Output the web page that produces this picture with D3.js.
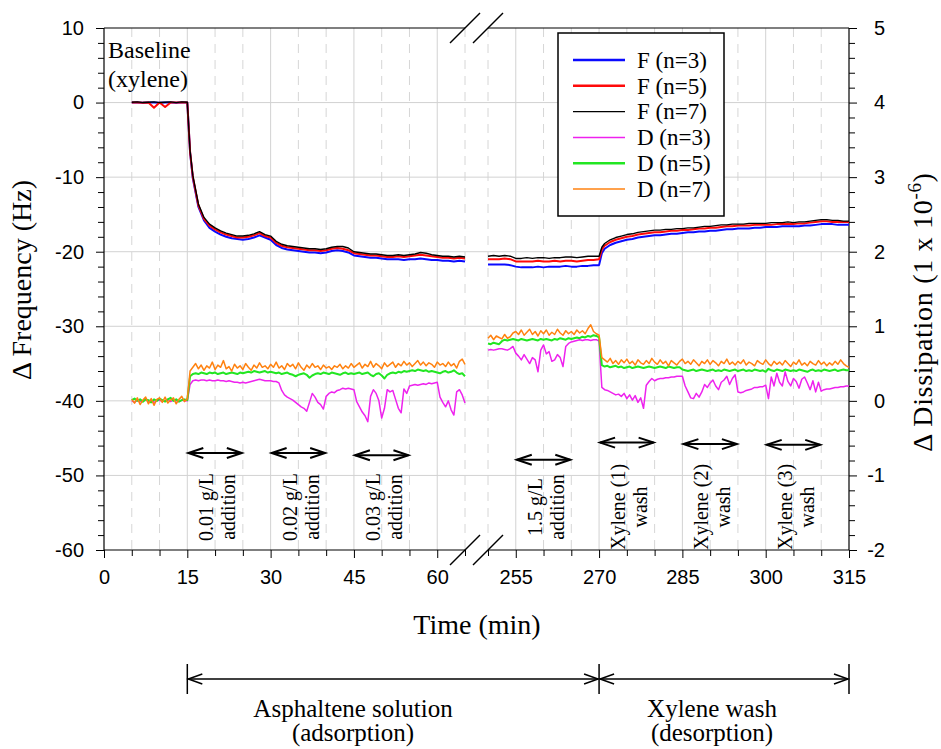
<!DOCTYPE html>
<html><head><meta charset="utf-8">
<script src="https://cdn.jsdelivr.net/npm/d3@7"></script>
<style>body{margin:0;background:#fff}</style>
</head><body>
<svg id="chart" width="941" height="749"></svg>
<script>
// ---------------- DATA ----------------
// sample times (min) for the frequency curves
const fLeftTime = [5,6,7,8,9,10,11,12,13,14,
  15,15.5,16,17,18,19,20,21,22,23,24,
  25,26,27,28,29,30,31,32,33,34,
  35,36,37,38,39,40,41,42,43,44,
  45,46,47,48,49,50,51,52,53,54,
  55,56,57,58,59,60,61,62,63,64,
  65];
const fRightTime = [250,251,252,253,254,255,256,257,258,259,
  260,261,262,263,264,265,266,267,268,269,
  270,270.5,271,272,273,274,275,276,277,278,279,
  280,281,282,283,284,285,286,287,288,289,
  290,291,292,293,294,295,296,297,298,299,
  300,301,302,303,304,305,306,307,308,309,
  310,311,312,313,314,315];
// sample times (min) for the dissipation curves
const dLeftTime = [5,5.5,6,6.5,7,7.5,8,8.5,9,9.5,
  10,10.5,11,11.5,12,12.5,13,13.5,14,14.5,
  15,15.5,16,16.5,17,17.5,18,18.5,19,19.5,
  20,20.5,21,21.5,22,22.5,23,23.5,24,24.5,
  25,25.5,26,26.5,27,27.5,28,28.5,29,29.5,
  30,30.5,31,31.5,32,32.5,33,33.5,34,34.5,
  35,35.5,36,36.5,37,37.5,38,38.5,39,39.5,
  40,40.5,41,41.5,42,42.5,43,43.5,44,44.5,
  45,45.5,46,46.5,47,47.5,48,48.5,49,49.5,
  50,50.5,51,51.5,52,52.5,53,53.5,54,54.5,
  55,55.5,56,56.5,57,57.5,58,58.5,59,59.5,
  60,60.5,61,61.5,62,62.5,63,63.5,64,64.5,
  65];
const dRightTime = [250,250.5,251,251.5,252,252.5,253,253.5,254,254.5,
  255,255.5,256,256.5,257,257.5,258,258.5,259,259.5,
  260,260.5,261,261.5,262,262.5,263,263.5,264,264.5,
  265,265.5,266,266.5,267,267.5,268,268.5,269,269.5,
  270,270.5,271,271.5,272,272.5,273,273.5,274,274.5,
  275,275.5,276,276.5,277,277.5,278,278.5,279,279.5,
  280,280.5,281,281.5,282,282.5,283,283.5,284,284.5,
  285,285.5,286,286.5,287,287.5,288,288.5,289,289.5,
  290,290.5,291,291.5,292,292.5,293,293.5,294,294.5,
  295,295.5,296,296.5,297,297.5,298,298.5,299,299.5,
  300,300.5,301,301.5,302,302.5,303,303.5,304,304.5,
  305,305.5,306,306.5,307,307.5,308,308.5,309,309.5,
  310,310.5,311,311.5,312,312.5,313,313.5,314,314.5,
  315];

// Δ Frequency (Hz)
const fN3Left = [0,0,-0.02,0,0,-0.02,0,0,-0.02,0,
  0,-6.7,-10.2,-14.0,-15.8,-16.8,-17.3,-17.7,-18.0,-18.2,-18.3,
  -18.4,-18.3,-18.1,-17.8,-18.1,-18.4,-19.1,-19.5,-19.7,-19.8,
  -19.9,-20.0,-20.1,-20.1,-20.2,-20.1,-19.9,-19.8,-19.9,-20.1,
  -20.5,-20.6,-20.7,-20.8,-20.8,-20.9,-21.0,-21.0,-21.0,-21.1,
  -21.0,-21.0,-20.9,-21.0,-21.1,-21.1,-21.2,-21.2,-21.3,-21.2,
  -21.3];
const fN5Left = [0,0.02,-0.02,0,-0.7,0,-0.6,0.02,0,0.02,
  0,-6.6,-10.0,-13.8,-15.6,-16.5,-17.0,-17.4,-17.7,-17.9,-18.1,
  -18.1,-18.0,-17.8,-17.5,-17.9,-18.1,-18.8,-19.2,-19.4,-19.5,
  -19.6,-19.7,-19.8,-19.8,-19.9,-19.8,-19.6,-19.5,-19.6,-19.8,
  -20.2,-20.3,-20.4,-20.5,-20.5,-20.6,-20.7,-20.7,-20.6,-20.7,
  -20.6,-20.5,-20.4,-20.5,-20.6,-20.7,-20.8,-20.8,-20.9,-20.8,
  -20.9];
const fN7Left = [0.05,0.1,0,0.05,0.1,0,0.05,0.1,0,0.1,
  0.05,-6.5,-9.8,-13.6,-15.4,-16.3,-16.8,-17.2,-17.5,-17.7,-17.9,
  -17.9,-17.8,-17.6,-17.3,-17.7,-17.9,-18.6,-19.0,-19.2,-19.3,
  -19.4,-19.5,-19.6,-19.6,-19.7,-19.6,-19.4,-19.3,-19.3,-19.5,
  -20.0,-20.1,-20.2,-20.3,-20.3,-20.4,-20.5,-20.5,-20.4,-20.5,
  -20.4,-20.3,-20.1,-20.2,-20.4,-20.5,-20.6,-20.6,-20.7,-20.6,
  -20.7];
const fN3Right = [-21.7,-21.7,-21.7,-21.7,-21.8,-22.0,-22.1,-22.1,-22.1,-22.0,
  -22.1,-22.0,-22.0,-22.0,-21.9,-22.0,-22.0,-21.9,-21.9,-21.8,
  -21.8,-20.2,-19.6,-19.1,-18.8,-18.6,-18.4,-18.3,-18.1,-18.0,-17.9,
  -17.8,-17.8,-17.7,-17.6,-17.6,-17.5,-17.4,-17.4,-17.3,-17.3,
  -17.2,-17.2,-17.1,-17.0,-17.0,-16.9,-16.9,-16.9,-16.8,-16.8,
  -16.7,-16.7,-16.7,-16.6,-16.6,-16.6,-16.6,-16.5,-16.5,-16.4,
  -16.3,-16.3,-16.3,-16.4,-16.4,-16.4];
const fN5Right = [-21.0,-21.0,-21.0,-20.9,-21.0,-21.3,-21.3,-21.3,-21.3,-21.2,
  -21.3,-21.3,-21.2,-21.3,-21.2,-21.2,-21.3,-21.2,-21.1,-21.1,
  -21.0,-19.7,-19.2,-18.7,-18.4,-18.2,-18.0,-17.9,-17.7,-17.6,-17.5,
  -17.4,-17.4,-17.3,-17.2,-17.2,-17.1,-17.1,-17.0,-16.9,-16.9,
  -16.8,-16.8,-16.7,-16.6,-16.6,-16.5,-16.5,-16.5,-16.4,-16.4,
  -16.4,-16.4,-16.3,-16.3,-16.3,-16.3,-16.2,-16.2,-16.1,-16.0,
  -15.9,-15.9,-16.0,-16.0,-16.0,-16.0];
const fN7Right = [-20.6,-20.5,-20.6,-20.5,-20.6,-20.9,-20.9,-20.8,-20.9,-20.8,
  -20.8,-20.9,-20.8,-20.8,-20.7,-20.7,-20.8,-20.7,-20.6,-20.6,
  -20.6,-19.4,-18.9,-18.4,-18.1,-17.9,-17.7,-17.6,-17.4,-17.3,-17.2,
  -17.1,-17.1,-17.0,-17.0,-16.9,-16.9,-16.8,-16.8,-16.7,-16.6,
  -16.6,-16.5,-16.4,-16.4,-16.3,-16.3,-16.3,-16.2,-16.2,-16.2,
  -16.2,-16.1,-16.1,-16.1,-16.0,-16.1,-16.0,-16.0,-15.9,-15.8,
  -15.7,-15.7,-15.8,-15.8,-15.9,-15.9];

// Δ Dissipation (1e-6)
const dN3Left = [0.00,-0.02,0.01,-0.01,0.00,0.02,-0.01,0.01,-0.02,0.00,
  0.01,-0.01,0.00,0.02,-0.01,0.01,0.00,-0.01,0.01,0.00,
  0.00,0.22,0.27,0.28,0.27,0.28,0.28,0.27,0.28,0.27,
  0.27,0.28,0.27,0.27,0.26,0.27,0.26,0.25,0.25,0.24,
  0.25,0.24,0.25,0.26,0.27,0.28,0.29,0.28,0.27,0.27,
  0.27,0.26,0.26,0.24,0.14,0.08,0.05,0.03,0.01,-0.02,
  -0.05,-0.08,-0.10,-0.14,-0.02,0.10,0.05,-0.02,-0.05,-0.11,
  0.06,0.10,0.12,0.11,0.14,0.15,0.17,0.16,0.17,0.16,
  0.15,-0.01,-0.08,-0.15,-0.20,-0.28,0.06,0.15,0.10,0.00,
  -0.23,-0.10,0.15,0.12,0.14,0.02,-0.10,-0.16,0.16,0.10,
  0.20,0.21,0.22,0.21,0.22,0.23,0.22,0.24,0.23,0.24,
  0.25,0.05,-0.02,-0.08,0.00,-0.12,-0.19,0.12,0.15,0.08,
  -0.03];
const dN5Left = [0.01,0.03,0.00,0.02,-0.01,0.02,0.01,-0.02,0.02,0.00,
  0.03,0.01,-0.01,0.02,0.04,0.00,0.02,-0.01,0.01,0.02,
  0.01,0.33,0.36,0.37,0.36,0.38,0.37,0.36,0.38,0.37,
  0.38,0.36,0.37,0.38,0.36,0.37,0.38,0.37,0.36,0.38,
  0.37,0.38,0.39,0.38,0.40,0.39,0.38,0.39,0.40,0.38,
  0.39,0.38,0.37,0.38,0.36,0.37,0.38,0.36,0.35,0.33,
  0.35,0.36,0.37,0.35,0.31,0.34,0.36,0.37,0.36,0.38,
  0.37,0.36,0.38,0.37,0.36,0.35,0.37,0.38,0.36,0.37,
  0.36,0.37,0.38,0.36,0.37,0.38,0.35,0.33,0.36,0.37,
  0.34,0.30,0.35,0.37,0.38,0.37,0.39,0.38,0.40,0.39,
  0.40,0.41,0.40,0.42,0.41,0.40,0.41,0.39,0.40,0.39,
  0.38,0.37,0.39,0.40,0.38,0.39,0.41,0.38,0.36,0.37,
  0.33];
const dN7Left = [0.02,-0.03,0.04,-0.05,0.01,0.05,-0.04,0.03,-0.06,0.02,
  0.04,-0.02,0.05,-0.03,0.01,0.04,-0.04,0.02,0.06,-0.01,
  0.03,0.40,0.45,0.50,0.43,0.48,0.41,0.47,0.44,0.52,
  0.42,0.48,0.45,0.54,0.43,0.46,0.40,0.49,0.44,0.47,
  0.42,0.50,0.45,0.41,0.48,0.44,0.51,0.45,0.47,0.43,
  0.49,0.45,0.52,0.44,0.47,0.42,0.50,0.46,0.49,0.43,
  0.51,0.45,0.41,0.48,0.44,0.50,0.45,0.47,0.42,0.48,
  0.44,0.46,0.42,0.47,0.45,0.49,0.43,0.47,0.44,0.50,
  0.45,0.48,0.51,0.44,0.49,0.46,0.53,0.45,0.50,0.47,
  0.43,0.51,0.46,0.49,0.52,0.45,0.50,0.47,0.53,0.48,
  0.51,0.46,0.50,0.54,0.48,0.52,0.47,0.51,0.49,0.45,
  0.52,0.48,0.50,0.46,0.52,0.47,0.50,0.44,0.53,0.56,
  0.49];
const dN3Right = [0.68,0.69,0.68,0.69,0.70,0.70,0.69,0.68,0.70,0.73,
  0.64,0.60,0.55,0.62,0.56,0.50,0.58,0.55,0.39,0.68,
  0.75,0.63,0.66,0.53,0.55,0.62,0.58,0.46,0.73,0.77,
  0.79,0.80,0.81,0.82,0.81,0.82,0.82,0.81,0.82,0.82,
  0.80,0.18,0.15,0.14,0.12,0.10,0.08,0.09,0.06,0.10,
  0.03,0.08,0.01,0.07,-0.02,0.04,-0.10,0.21,0.26,0.30,
  0.27,0.29,0.30,0.30,0.31,0.31,0.32,0.32,0.33,0.33,
  0.33,0.20,0.12,0.04,0.03,0.10,0.05,0.12,0.22,0.18,
  0.24,0.28,0.20,0.15,0.25,0.28,0.33,0.22,0.30,0.35,
  0.12,0.11,0.12,0.14,0.15,0.16,0.18,0.18,0.19,0.19,
  0.21,0.03,0.32,0.20,0.37,0.25,0.20,0.39,0.26,0.20,
  0.30,0.26,0.17,0.29,0.32,0.24,0.15,0.27,0.12,0.25,
  0.13,0.15,0.16,0.16,0.17,0.18,0.18,0.19,0.19,0.20,
  0.20];
const dN5Right = [0.77,0.76,0.78,0.77,0.76,0.80,0.82,0.81,0.82,0.83,
  0.82,0.81,0.83,0.82,0.81,0.82,0.83,0.82,0.81,0.83,
  0.82,0.83,0.82,0.81,0.83,0.82,0.84,0.83,0.82,0.84,
  0.83,0.84,0.85,0.84,0.86,0.85,0.87,0.86,0.88,0.87,
  0.85,0.48,0.46,0.47,0.45,0.46,0.47,0.45,0.46,0.44,
  0.45,0.46,0.44,0.45,0.46,0.45,0.44,0.45,0.46,0.45,
  0.44,0.45,0.46,0.45,0.44,0.46,0.45,0.44,0.45,0.45,
  0.42,0.41,0.40,0.41,0.42,0.40,0.41,0.42,0.41,0.40,
  0.41,0.42,0.40,0.41,0.40,0.42,0.41,0.40,0.41,0.42,
  0.40,0.41,0.42,0.40,0.41,0.40,0.42,0.41,0.40,0.41,
  0.39,0.43,0.41,0.40,0.42,0.41,0.40,0.42,0.41,0.40,
  0.41,0.40,0.42,0.41,0.40,0.39,0.41,0.42,0.40,0.41,
  0.40,0.42,0.41,0.40,0.41,0.42,0.40,0.41,0.42,0.41,
  0.41];
const dN7Right = [0.84,0.88,0.82,0.87,0.85,0.83,0.89,0.84,0.86,0.91,
  0.93,0.89,0.95,0.88,0.92,0.96,0.89,0.93,0.87,0.94,
  0.90,0.95,0.88,0.92,0.89,0.96,0.91,0.88,0.94,0.90,
  0.93,0.89,0.95,0.91,0.94,0.90,0.97,1.02,0.93,0.90,
  0.88,0.58,0.55,0.52,0.57,0.50,0.54,0.49,0.55,0.51,
  0.56,0.50,0.53,0.48,0.55,0.51,0.49,0.54,0.50,0.57,
  0.52,0.49,0.55,0.50,0.53,0.47,0.54,0.51,0.48,0.53,
  0.56,0.50,0.53,0.49,0.55,0.51,0.47,0.53,0.50,0.55,
  0.49,0.54,0.51,0.47,0.53,0.50,0.56,0.49,0.52,0.48,
  0.53,0.50,0.55,0.48,0.52,0.50,0.47,0.54,0.51,0.49,
  0.55,0.50,0.47,0.53,0.49,0.52,0.48,0.54,0.50,0.46,
  0.52,0.49,0.55,0.48,0.51,0.47,0.53,0.50,0.48,0.54,
  0.49,0.52,0.47,0.51,0.48,0.53,0.49,0.55,0.50,0.47,
  0.45];

const seriesNames = ["F (n=3)","F (n=5)","F (n=7)","D (n=3)","D (n=5)","D (n=7)"];

// axis ticks
const xTickLabels = [0,15,30,45,60,255,270,285,300,315];
const xMinorTicks = [5,10,20,25,35,40,50,55,65,250,260,265,275,280,290,295,305,310];
const yFTickLabels = [10,0,-10,-20,-30,-40,-50,-60];
const yDTickLabels = [5,4,3,2,1,0,-1,-2];

// annotations
const annStart = [15,30,45,255,270,285,300];
const annEnd = [25,40,55,265,280,295,310];
const annLine1 = ["0.01 g/L","0.02 g/L","0.03 g/L","1.5 g/L","Xylene (1)","Xylene (2)","Xylene (3)"];
const annLine2 = ["addition","addition","addition","addition","wash","wash","wash"];
const annLevel = [-47.0,-47.0,-47.3,-47.9,-45.6,-45.8,-45.9];
const phaseBounds = [15,270,315];
const phaseLine1 = ["Asphaltene solution","Xylene wash"];
const phaseLine2 = ["(adsorption)","(desorption)"];

// ---------------- STYLE ----------------
const seriesColors = ["#0a0aff","#ff0a0a","#000000","#ee22ee","#22e622","#ff8210"];
const seriesWidths = [2,2,1.4,1.5,2,1.5];
const legendWidths = [2.6,2.6,1.4,1.5,2.6,1.6];
const SERIF = "'Liberation Serif','Times New Roman',serif";
const SANS = "'Liberation Sans',Arial,sans-serif";

// ---------------- LAYOUT ----------------
const L=104, R=849, T=28, B=550, GL=465, GR=488;
const svg = d3.select("#chart");
const x = d3.scaleLinear().domain([0,65,250,315]).range([L,GL,GR,R]);
const yF = d3.scaleLinear().domain([-60,10]).range([B,T]);
const yD = d3.scaleLinear().domain([-2,5]).range([B,T]);
const fmt = d => String(d);

// grid
const grid = svg.append("g");
grid.selectAll("line.vmaj").data(xTickLabels.filter(d=>d!==0&&d!==315)).join("line")
  .attr("x1",d=>x(d)).attr("x2",d=>x(d)).attr("y1",T).attr("y2",B)
  .attr("stroke","#d2d2d2").attr("stroke-width",1);
grid.selectAll("line.vmin").data(xMinorTicks).join("line")
  .attr("x1",d=>x(d)).attr("x2",d=>x(d)).attr("y1",T).attr("y2",B)
  .attr("stroke","#d6d6d6").attr("stroke-width",1).attr("stroke-dasharray","9,7");
grid.selectAll("line.h").data(yFTickLabels.filter(d=>d!==10&&d!==-60)).join("line")
  .attr("x1",L).attr("x2",R).attr("y1",d=>yF(d)).attr("y2",d=>yF(d))
  .attr("stroke","#d2d2d2").attr("stroke-width",1);

// axes
function styleAxis(g){ g.select(".domain").remove(); g.selectAll("line").attr("stroke","#000");
  g.selectAll("text").attr("font-family",SANS).attr("font-size",20).attr("fill","#000"); }
svg.append("g").attr("transform",`translate(0,${B})`)
  .call(d3.axisBottom(x).tickValues(xTickLabels).tickSize(8).tickPadding(12).tickFormat(fmt)).call(styleAxis);
svg.append("g").attr("transform",`translate(0,${B})`)
  .call(d3.axisBottom(x).tickValues(xMinorTicks).tickSize(6).tickFormat("")).call(styleAxis);
svg.append("g").attr("transform",`translate(${L},0)`)
  .call(d3.axisLeft(yF).tickValues(yFTickLabels).tickSize(8).tickPadding(12).tickFormat(fmt)).call(styleAxis);
svg.append("g").attr("transform",`translate(${L},0)`)
  .call(d3.axisLeft(yF).tickValues(d3.range(-60,10.1,2).filter(v=>v%10!==0)).tickSize(6).tickFormat("")).call(styleAxis);
const rAx = svg.append("g").attr("transform",`translate(${R},0)`)
  .call(d3.axisRight(yD).tickValues(yDTickLabels).tickSize(8).tickPadding(12).tickFormat(fmt)).call(styleAxis);
rAx.selectAll("text").attr("text-anchor","end").attr("x",36);
svg.append("g").attr("transform",`translate(${R},0)`)
  .call(d3.axisRight(yD).tickValues(d3.range(-20,50.1,2).filter(v=>v%10!==0).map(v=>v/10)).tickSize(6).tickFormat("")).call(styleAxis);

// frame with broken x axis
const frame = svg.append("g").attr("stroke","#000").attr("stroke-width",1.2);
[[L,T,L,B],[R,T,R,B],[L,B,x(65),B],[x(250),B,R,B],[L,T,x(65),T],[x(250),T,R,T]].forEach(s=>
  frame.append("line").attr("x1",s[0]).attr("y1",s[1]).attr("x2",s[2]).attr("y2",s[3]));
[x(65),x(250)].forEach(cx=>[T,B].forEach(cy=>
  frame.append("line").attr("x1",cx-15).attr("y1",cy+15).attr("x2",cx+15).attr("y2",cy-15).attr("stroke-width",1.5)));

// series
const lineF = d3.line().x(d=>x(d[0])).y(d=>yF(d[1]));
const lineD = d3.line().x(d=>x(d[0])).y(d=>yD(d[1]));
const series = [
  {i:3, gen:lineD, segs:[d3.zip(dLeftTime,dN3Left), d3.zip(dRightTime,dN3Right)]},
  {i:4, gen:lineD, segs:[d3.zip(dLeftTime,dN5Left), d3.zip(dRightTime,dN5Right)]},
  {i:5, gen:lineD, segs:[d3.zip(dLeftTime,dN7Left), d3.zip(dRightTime,dN7Right)]},
  {i:0, gen:lineF, segs:[d3.zip(fLeftTime,fN3Left), d3.zip(fRightTime,fN3Right)]},
  {i:1, gen:lineF, segs:[d3.zip(fLeftTime,fN5Left), d3.zip(fRightTime,fN5Right)]},
  {i:2, gen:lineF, segs:[d3.zip(fLeftTime,fN7Left), d3.zip(fRightTime,fN7Right)]}
];
const gl = svg.append("g").attr("fill","none").attr("stroke-linejoin","round");
series.forEach(s=>s.segs.forEach(seg=>
  gl.append("path").attr("d",s.gen(seg)).attr("stroke",seriesColors[s.i]).attr("stroke-width",seriesWidths[s.i])));

// legend
const lg = svg.append("g");
lg.append("rect").attr("x",558).attr("y",33).attr("width",166).attr("height",183)
  .attr("fill","#fff").attr("stroke","#000").attr("stroke-width",1.5);
seriesNames.forEach((n,i)=>{
  const cy = 60 + i*25.8;
  lg.append("line").attr("x1",573).attr("x2",625).attr("y1",cy).attr("y2",cy)
    .attr("stroke",seriesColors[i]).attr("stroke-width",legendWidths[i]);
  lg.append("text").attr("x",637).attr("y",cy+7.7).text(n)
    .attr("font-family",SERIF).attr("font-size",23);
});

// baseline label
const bl = svg.append("text").attr("font-family",SERIF).attr("font-size",24);
bl.append("tspan").attr("x",108).attr("y",58).text("Baseline");
bl.append("tspan").attr("x",108).attr("y",86.5).text("(xylene)");

// arrows
function chevron(g,tx,ty,dir,len,half,sw){
  g.append("path").attr("d",`M${tx+dir*len},${ty-half}L${tx},${ty}L${tx+dir*len},${ty+half}`)
    .attr("fill","none").attr("stroke","#000").attr("stroke-width",sw);
}
function dblArrow(g,x1,x2,y,len,half,sw){
  g.append("line").attr("x1",x1).attr("x2",x2).attr("y1",y).attr("y2",y).attr("stroke","#000").attr("stroke-width",sw);
  chevron(g,x1,y,1,len,half,sw); chevron(g,x2,y,-1,len,half,sw);
}
const ag = svg.append("g");
annStart.forEach((s,i)=>{
  const x1=x(s), x2=x(annEnd[i]), y=yF(annLevel[i]);
  dblArrow(ag,x1+1,x2-1,y,15,5,2);
  ag.append("text").attr("font-family",SERIF).attr("font-size",20).attr("text-anchor","middle")
    .attr("transform",`translate(${x1+26},507) rotate(-90)`).text(annLine1[i]);
  ag.append("text").attr("font-family",SERIF).attr("font-size",20).attr("text-anchor","middle")
    .attr("transform",`translate(${x1+48},507) rotate(-90)`).text(annLine2[i]);
});

// phase brackets below axis
const pg = svg.append("g");
phaseBounds.forEach(b=>pg.append("line").attr("x1",x(b)).attr("x2",x(b)).attr("y1",664).attr("y2",694)
  .attr("stroke","#000").attr("stroke-width",1.5));
dblArrow(pg,x(phaseBounds[0])+1,x(phaseBounds[1])-1,679,14,5,1.5);
dblArrow(pg,x(phaseBounds[1])+1,x(phaseBounds[2])-1,679,14,5,1.5);
const phaseCx = [353,712];
phaseLine1.forEach((t,i)=>{
  pg.append("text").attr("x",phaseCx[i]).attr("y",716.5).attr("text-anchor","middle")
    .attr("font-family",SERIF).attr("font-size",25).text(t);
  pg.append("text").attr("x",phaseCx[i]).attr("y",741).attr("text-anchor","middle")
    .attr("font-family",SERIF).attr("font-size",25).text(phaseLine2[i]);
});

// axis titles
svg.append("text").attr("x",477).attr("y",634).attr("text-anchor","middle")
  .attr("font-family",SERIF).attr("font-size",28).text("Time (min)");
svg.append("text").attr("transform","translate(31,280) rotate(-90)").attr("text-anchor","middle")
  .attr("font-family",SERIF).attr("font-size",28).text("\u0394 Frequency (Hz)");
const rt = svg.append("text").attr("transform","translate(932,312) rotate(-90)").attr("text-anchor","middle")
  .attr("font-family",SERIF).attr("font-size",28).attr("letter-spacing",0.7);
rt.append("tspan").text("\u0394 Dissipation (1 x 10");
rt.append("tspan").attr("dy",-11).attr("font-size",19).text("-6");
rt.append("tspan").attr("dy",11).text(")");
</script>
</body></html>
